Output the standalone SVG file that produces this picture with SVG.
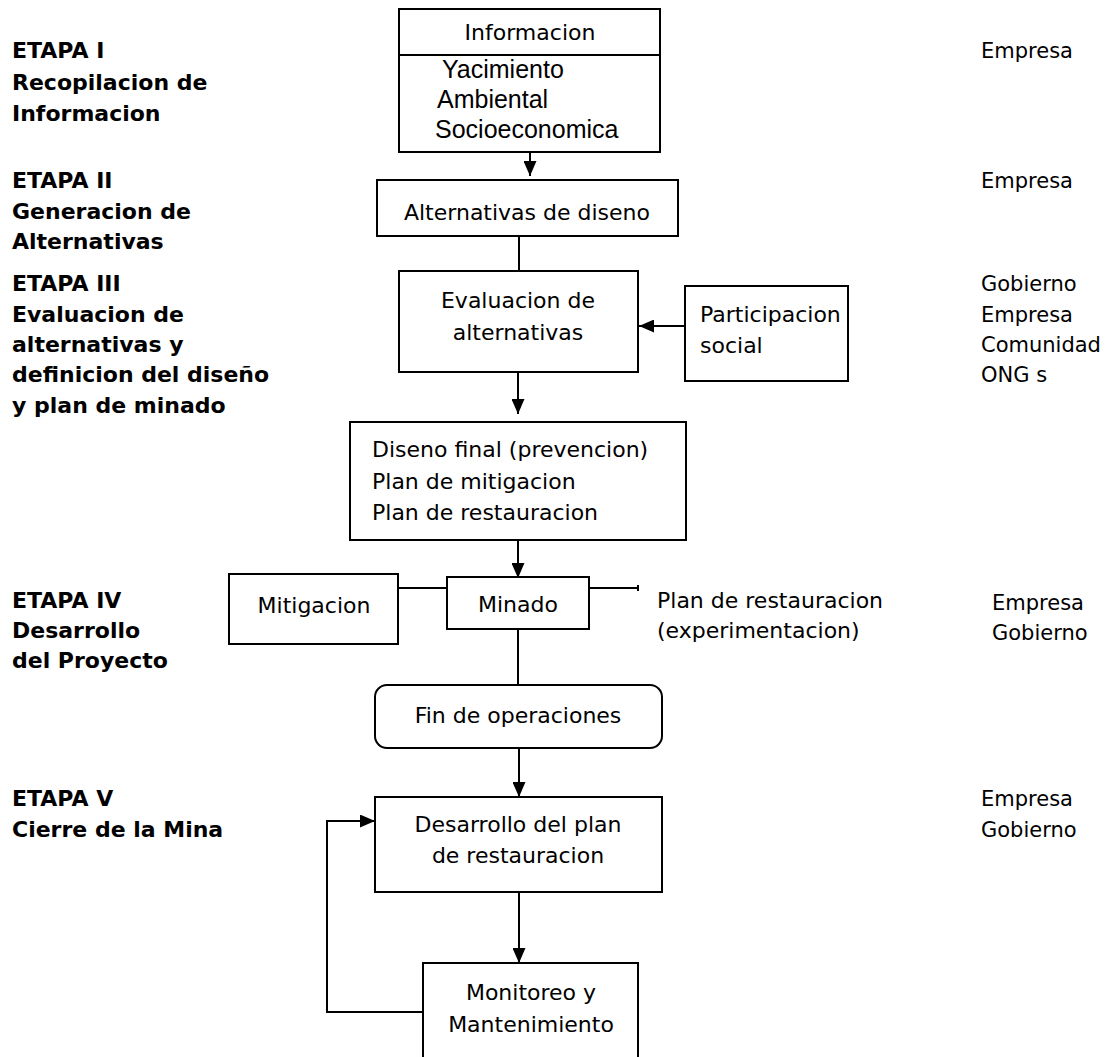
<svg xmlns="http://www.w3.org/2000/svg" width="1106" height="1057" viewBox="0 0 1106 1057">
<style>
  .bx{fill:#fff;stroke:#000;stroke-width:2}
  .ln{fill:none;stroke:#000;stroke-width:2}
  text{font-family:"DejaVu Sans",Verdana,sans-serif;font-size:22px;fill:#000}
  .b{font-weight:bold}
  .c{text-anchor:middle}
  .r{font-size:21px}
  .ar{font-family:"Liberation Sans",Arial,sans-serif;font-size:25px}
</style>
<defs>
  <marker id="ah" viewBox="0 0 15 13" refX="15" refY="6.5" markerWidth="15" markerHeight="13" markerUnits="userSpaceOnUse" orient="auto">
    <path d="M0,0 L15,6.5 L0,13 Z" fill="#000"/>
  </marker>
</defs>
<rect width="1106" height="1057" fill="#fff"/>

<g id="stages">
  <text class="b" x="12" y="58">ETAPA I</text>
  <text class="b" x="12" y="90">Recopilacion de</text>
  <text class="b" x="12" y="121">Informacion</text>
  <text class="b" x="12" y="188">ETAPA II</text>
  <text class="b" x="12" y="219">Generacion de</text>
  <text class="b" x="12" y="249">Alternativas</text>
  <text class="b" x="12" y="291">ETAPA III</text>
  <text class="b" x="12" y="322">Evaluacion de</text>
  <text class="b" x="12" y="352">alternativas y</text>
  <text class="b" x="12" y="382">definicion del diseño</text>
  <text class="b" x="12" y="413">y plan de minado</text>
  <text class="b" x="12" y="608">ETAPA IV</text>
  <text class="b" x="12" y="638">Desarrollo</text>
  <text class="b" x="12" y="668">del Proyecto</text>
  <text class="b" x="12" y="806">ETAPA V</text>
  <text class="b" x="12" y="837">Cierre de la Mina</text>
</g>

<g id="actors">
  <text class="r" x="981" y="58">Empresa</text>
  <text class="r" x="981" y="188">Empresa</text>
  <text class="r" x="981" y="291">Gobierno</text>
  <text class="r" x="981" y="322">Empresa</text>
  <text class="r" x="981" y="352">Comunidad</text>
  <text class="r" x="981" y="382">ONG s</text>
  <text class="r" x="992" y="610">Empresa</text>
  <text class="r" x="992" y="640">Gobierno</text>
  <text class="r" x="981" y="806">Empresa</text>
  <text class="r" x="981" y="837">Gobierno</text>
</g>

<g id="connectors">
  <line class="ln" x1="530" y1="152" x2="530" y2="176" marker-end="url(#ah)"/>
  <line class="ln" x1="519" y1="236" x2="519" y2="271"/>
  <line class="ln" x1="685" y1="326" x2="639" y2="326" marker-end="url(#ah)"/>
  <line class="ln" x1="518" y1="372" x2="518" y2="414" marker-end="url(#ah)"/>
  <line class="ln" x1="518" y1="540" x2="518" y2="578" marker-end="url(#ah)"/>
  <line class="ln" x1="398" y1="588" x2="447" y2="588"/>
  <line class="ln" x1="589" y1="588" x2="638" y2="588"/>
  <line class="ln" x1="638" y1="585" x2="638" y2="591"/>
  <line class="ln" x1="518" y1="629" x2="518" y2="685"/>
  <line class="ln" x1="519" y1="748" x2="519" y2="797" marker-end="url(#ah)"/>
  <line class="ln" x1="519" y1="892" x2="519" y2="963" marker-end="url(#ah)"/>
  <polyline class="ln" points="423,1012 327,1012 327,821 375,821" marker-end="url(#ah)"/>
</g>

<g id="informacion">
  <rect class="bx" x="399" y="9" width="261" height="143"/>
  <line class="ln" x1="399" y1="55" x2="660" y2="55"/>
  <text class="c" x="530" y="40">Informacion</text>
  <text class="ar" x="442" y="78">Yacimiento</text>
  <text class="ar" x="437" y="108">Ambiental</text>
  <text class="ar" x="435" y="138">Socioeconomica</text>
</g>

<g id="alternativas">
  <rect class="bx" x="377" y="180" width="301" height="56"/>
  <text class="c" x="527" y="220">Alternativas de diseno</text>
</g>

<g id="evaluacion">
  <rect class="bx" x="399" y="271" width="239" height="101"/>
  <text class="c" x="518" y="308">Evaluacion de</text>
  <text class="c" x="518" y="340">alternativas</text>
</g>

<g id="participacion">
  <rect class="bx" x="685" y="286" width="163" height="95"/>
  <text x="700" y="322">Participacion</text>
  <text x="700" y="353">social</text>
</g>

<g id="diseno">
  <rect class="bx" x="350" y="422" width="336" height="118"/>
  <text x="372" y="457">Diseno final (prevencion)</text>
  <text x="372" y="489">Plan de mitigacion</text>
  <text x="372" y="520">Plan de restauracion</text>
</g>

<g id="mitigacion">
  <rect class="bx" x="229" y="574" width="169" height="70"/>
  <text class="c" x="314" y="613">Mitigacion</text>
</g>

<g id="minado">
  <rect class="bx" x="447" y="577" width="142" height="52"/>
  <text class="c" x="518" y="612">Minado</text>
</g>

<g id="plan-restauracion">
  <text x="657" y="608">Plan de restauracion</text>
  <text x="657" y="638">(experimentacion)</text>
</g>

<g id="fin">
  <rect class="bx" x="375" y="685" width="287" height="63" rx="12"/>
  <text class="c" x="518" y="723">Fin de operaciones</text>
</g>

<g id="desarrollo">
  <rect class="bx" x="375" y="797" width="287" height="95"/>
  <text class="c" x="518" y="832">Desarrollo del plan</text>
  <text class="c" x="518" y="863">de restauracion</text>
</g>

<g id="monitoreo">
  <rect class="bx" x="423" y="963" width="215" height="110"/>
  <text class="c" x="531" y="1000">Monitoreo y</text>
  <text class="c" x="531" y="1032">Mantenimiento</text>
</g>
</svg>
